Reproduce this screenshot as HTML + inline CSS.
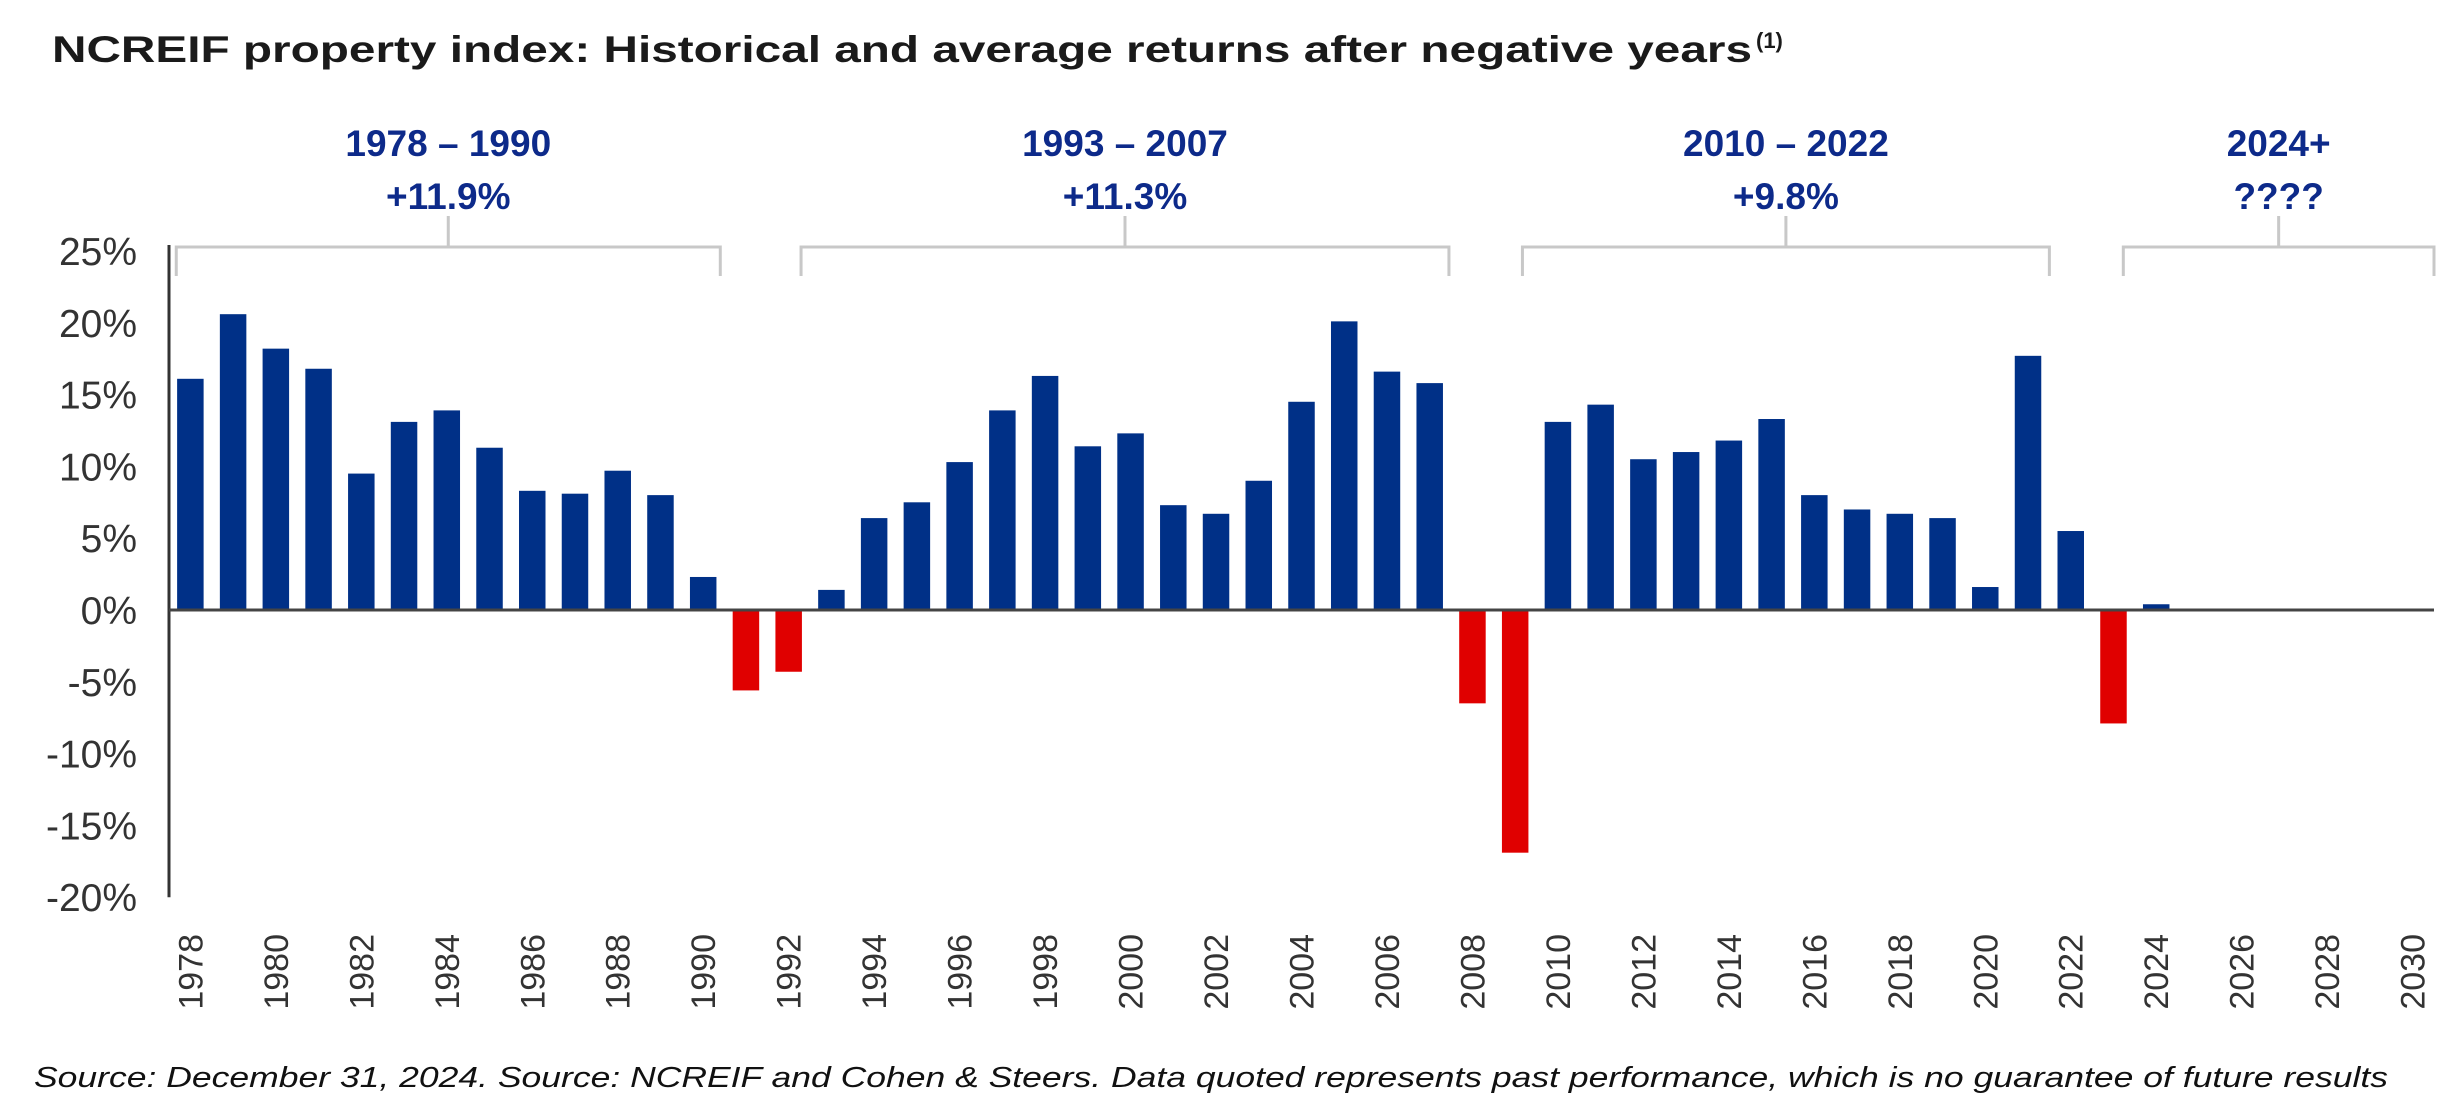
<!DOCTYPE html>
<html><head><meta charset="utf-8"><style>
html,body{margin:0;padding:0;background:#fff;}
svg{display:block;font-family:"Liberation Sans",sans-serif;}
</style></head><body>
<svg id="chart" width="2447" height="1115" viewBox="0 0 2447 1115" xmlns="http://www.w3.org/2000/svg">
<text x="52" y="62" font-size="37" font-weight="bold" fill="#1a1a1a" textLength="1700" lengthAdjust="spacingAndGlyphs">NCREIF property index: Historical and average returns after negative years</text>
<text x="1756" y="48" font-size="22" font-weight="bold" fill="#1a1a1a">(1)</text>
<g id="brackets"></g>
<g id="yaxis"></g>
<g id="bars"></g>
<g id="xaxis"></g>
<text x="34" y="1087" font-size="29" font-style="italic" fill="#111" textLength="2354" lengthAdjust="spacingAndGlyphs">Source: December 31, 2024. Source: NCREIF and Cohen &amp; Steers. Data quoted represents past performance, which is no guarantee of future results</text>
</svg>
<script>
const years = [];
for (let y = 1978; y <= 2030; y++) years.push(y);
const valueYears = [1978,1979,1980,1981,1982,1983,1984,1985,1986,1987,1988,1989,1990,1991,1992,1993,1994,1995,1996,1997,1998,1999,2000,2001,2002,2003,2004,2005,2006,2007,2008,2009,2010,2011,2012,2013,2014,2015,2016,2017,2018,2019,2020,2021,2022,2023,2024];
const returns = [16.1,20.6,18.2,16.8,9.5,13.1,13.9,11.3,8.3,8.1,9.7,8.0,2.3,-5.6,-4.3,1.4,6.4,7.5,10.3,13.9,16.3,11.4,12.3,7.3,6.7,9.0,14.5,20.1,16.6,15.8,-6.5,-16.9,13.1,14.3,10.5,11.0,11.8,13.3,8.0,7.0,6.7,6.4,1.6,17.7,5.5,-7.9,0.4];
const yTicks = [25,20,15,10,5,0,-5,-10,-15,-20];
const periodRanges = ["1978 – 1990","1993 – 2007","2010 – 2022","2024+"];
const periodAverages = ["+11.9%","+11.3%","+9.8%","????"];
const periodStart = [1977.67,1992.29,2009.17,2023.23];
const periodEnd = [1990.4,2007.45,2021.5,2030.55];

const NS = "http://www.w3.org/2000/svg";
const X0 = 169, X1 = 2434, Y0 = 610, PPU = 14.36;
const band = (X1 - X0) / years.length;
const xF = yr => X0 + (yr - years[0] + 0.5) * band;
const xC = yr => X0 + (years.indexOf(yr) + 0.5) * band;
const yS = v => Y0 - v * PPU;
function mk(tag, attrs, parent){const e=document.createElementNS(NS,tag);for(const k in attrs)e.setAttribute(k,attrs[k]);parent.appendChild(e);return e;}

const ya = document.getElementById('yaxis');
yTicks.forEach(t => {
  const tx = mk('text',{x:137,y:yS(t)+14,'font-size':39,'text-anchor':'end',fill:'#333'},ya);
  tx.textContent = t + '%';
  
  
});
const yl = mk('line',{x1:X0,x2:X0,y1:yS(25)-6,y2:yS(-20),stroke:'#333','stroke-width':3},ya);



const bg = document.getElementById('bars');
valueYears.forEach((yr, i) => {
  const v = returns[i], w = band * 0.62;
  const r = mk('rect',{x:xC(yr)-w/2,y:Math.min(yS(v),Y0),width:w,height:Math.abs(yS(v)-Y0),fill:v<0?'#e00000':'#003087'},bg);
  
  
});
const zl = mk('line',{x1:X0,x2:X1,y1:Y0,y2:Y0,stroke:'#444','stroke-width':3},bg);



const xa = document.getElementById('xaxis');
years.forEach((yr, i) => {
  if (i % 2) return;
  const x = xC(yr) + 12;
  const t = mk('text',{x:x,y:934,'font-size':34,'text-anchor':'end',fill:'#333',transform:`rotate(-90 ${x} 934)`},xa);
  t.textContent = yr;
  
  
});

const br = document.getElementById('brackets');
periodRanges.forEach((lab, i) => {
  const a = xF(periodStart[i]), b = Math.min(xF(periodEnd[i]), X1), c = (a+b)/2;
  const g = mk('path',{d:`M${a} 276 V247 H${b} V276 M${c} 247 V216`,fill:'none',stroke:'#c8c8c8','stroke-width':3},br);
  
  
  const t1 = mk('text',{x:c,y:156,'font-size':37,'font-weight':'bold','text-anchor':'middle',fill:'#0d2a8a'},br);
  t1.textContent = lab;
  
  
  const t2 = mk('text',{x:c,y:209,'font-size':37,'font-weight':'bold','text-anchor':'middle',fill:'#0d2a8a'},br);
  t2.textContent = periodAverages[i];
  
  
});
</script>
</body></html>
